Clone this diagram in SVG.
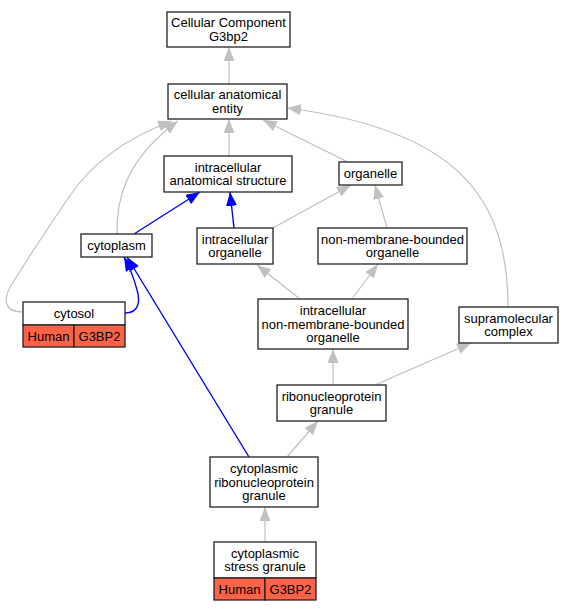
<svg xmlns="http://www.w3.org/2000/svg" width="574" height="611" viewBox="0 0 574 611">
<defs>
<marker id="ag" markerUnits="userSpaceOnUse" viewBox="0 0 14 11" refX="14" refY="5.5" markerWidth="14" markerHeight="11" orient="auto"><path d="M0,0 L14,5.5 L0,11 z" fill="#c0c0c0"/></marker>
<marker id="ab" markerUnits="userSpaceOnUse" viewBox="0 0 14 11" refX="14" refY="5.5" markerWidth="14" markerHeight="11" orient="auto"><path d="M0,0 L14,5.5 L0,11 z" fill="#0000ff"/></marker>
<style>
.n rect{fill:#fff;stroke:#222;stroke-width:1.3}
.n rect.r{fill:#ff6347}
text{font-family:"Liberation Sans",Arial,sans-serif;font-size:13px;fill:#000;text-anchor:middle}
.g{fill:none;stroke:#c0c0c0;stroke-width:1.2;marker-end:url(#ag)}
.b{fill:none;stroke:#0000ff;stroke-width:1.4;marker-end:url(#ab)}
</style>
</defs>
<rect width="574" height="611" fill="#fff"/>
<g id="edges">
<path class="g" d="M229,84 L229,47"/>
<path class="g" d="M229,156 L229,119"/>
<path class="g" d="M348,162 L263,120"/>
<path class="g" d="M508,307 C508,200 460,130 287,108"/>
<path class="g" d="M117,235 C116,200 125,160 178,121"/>
<path class="g" d="M23,312 C3,312 3,298 12,284 C30,255 50,225 67,200 C85,172 115,142 172,121"/>
<path class="b" d="M134,234 L200,192"/>
<path class="b" d="M234,228 L230,192"/>
<path class="g" d="M273,228 L351,185"/>
<path class="g" d="M387,228 L375,185"/>
<path class="b" d="M125,313 C140,313 140,300 137,290 C134,278 130,268 124,257"/>
<path class="b" d="M249,457 L127,257"/>
<path class="g" d="M300,299 L257,265"/>
<path class="g" d="M352,299 L378,264"/>
<path class="g" d="M333,385 L333,349"/>
<path class="g" d="M375,385 L471,343"/>
<path class="g" d="M287,457 L318,421"/>
<path class="g" d="M265,542 L265,507"/>
</g>
<g id="n1" class="n"><rect x="167" y="12" width="123" height="35"/><text x="228.5" y="27">Cellular Component</text><text x="228.5" y="40.5">G3bp2</text></g>
<g id="n2" class="n"><rect x="168" y="84" width="119" height="35"/><text x="227.5" y="99">cellular anatomical</text><text x="227.5" y="112.5">entity</text></g>
<g id="n3" class="n"><rect x="164" y="156" width="128" height="36"/><text x="228" y="171.5">intracellular</text><text x="228" y="185">anatomical structure</text></g>
<g id="n4" class="n"><rect x="339" y="162" width="63" height="23"/><text x="370.5" y="178">organelle</text></g>
<g id="n5" class="n"><rect x="318" y="228" width="149" height="36"/><text x="392.5" y="243.5">non-membrane-bounded</text><text x="392.5" y="257">organelle</text></g>
<g id="n6" class="n"><rect x="81" y="234" width="71" height="23"/><text x="116.5" y="250">cytoplasm</text></g>
<g id="n7" class="n"><rect x="197" y="228" width="76" height="36"/><text x="235" y="243.5">intracellular</text><text x="235" y="257">organelle</text></g>
<g id="n8" class="n"><rect x="23" y="302" width="102" height="23"/><rect class="r" x="23" y="325" width="51" height="22"/><rect class="r" x="74" y="325" width="51" height="22"/><text x="74" y="318">cytosol</text><text x="48.5" y="340.5">Human</text><text x="99.5" y="340.5">G3BP2</text></g>
<g id="n9" class="n"><rect x="258" y="299" width="150" height="50"/><text x="333" y="315">intracellular</text><text x="333" y="328.5">non-membrane-bounded</text><text x="333" y="342">organelle</text></g>
<g id="n10" class="n"><rect x="459" y="307" width="99" height="36"/><text x="508.5" y="322.5">supramolecular</text><text x="508.5" y="336">complex</text></g>
<g id="n11" class="n"><rect x="277" y="385" width="109" height="36"/><text x="331.5" y="400.5">ribonucleoprotein</text><text x="331.5" y="414">granule</text></g>
<g id="n12" class="n"><rect x="210" y="457" width="108" height="50"/><text x="264" y="473">cytoplasmic</text><text x="264" y="486.5">ribonucleoprotein</text><text x="264" y="500">granule</text></g>
<g id="n13" class="n"><rect x="214" y="542" width="102" height="36"/><rect class="r" x="214" y="578" width="51" height="22"/><rect class="r" x="265" y="578" width="51" height="22"/><text x="265" y="557.5">cytoplasmic</text><text x="265" y="571">stress granule</text><text x="239.5" y="593.5">Human</text><text x="290.5" y="593.5">G3BP2</text></g>
</svg>
